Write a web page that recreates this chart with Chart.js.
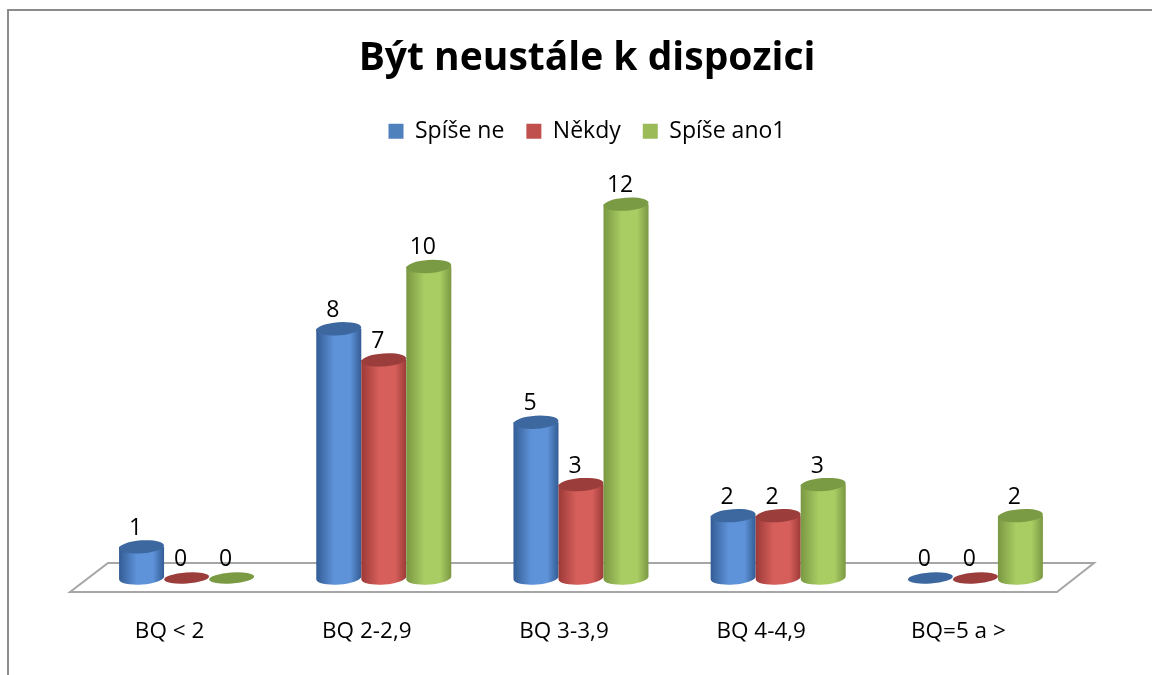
<!DOCTYPE html>
<html>
<head>
<meta charset="utf-8">
<script src="https://cdn.jsdelivr.net/npm/chart.js@4.4.1/dist/chart.umd.min.js"></script>
<style>
html,body{margin:0;padding:0;background:#fff;}
#wrap{position:relative;width:1152px;height:675px;}
</style>
</head>
<body>
<div id="wrap"><canvas id="c" width="1152" height="675"></canvas></div>
<script>
const categories = ["BQ < 2", "BQ 2-2,9", "BQ 3-3,9", "BQ 4-4,9", "BQ=5 a >"];
const seriesNames = ["Spíše ne", "Někdy", "Spíše ano1"];
const spiseNe = [1, 8, 5, 2, 0];
const nekdy = [0, 7, 3, 2, 0];
const spiseAno = [0, 10, 12, 3, 2];

const palette = [
  {legend:"#4f81bd", dark:"#335c94", light:"#5e93da", top:"#3c679f"},
  {legend:"#c0504d", dark:"#9c3a37", light:"#d65f5b", top:"#9b3d3a"},
  {legend:"#9bbb59", dark:"#7a9842", light:"#a9cc63", top:"#7b9a44"}
];
const FONT = "'Open Sans', sans-serif";
const BAR_SHIFT = 17;

const framePlugin = {
  id: 'frame',
  beforeDraw(chart) {
    const ctx = chart.ctx;
    ctx.save();
    ctx.strokeStyle = '#8c8c8c';
    ctx.lineWidth = 2;
    ctx.beginPath();
    ctx.moveTo(8, 675);
    ctx.lineTo(8, 10);
    ctx.lineTo(1152, 10);
    ctx.stroke();
    ctx.restore();
  },
  beforeDatasetsDraw(chart) {
    const ctx = chart.ctx;
    const y = chart.scales.y;
    const y0 = y.getPixelForValue(0);
    const L = chart.chartArea.left, R = chart.chartArea.right;
    ctx.save();
    ctx.fillStyle = '#ffffff';
    ctx.strokeStyle = '#a6a6a6';
    ctx.lineWidth = 2;
    ctx.beginPath();
    ctx.moveTo(L - 1, y0 + 14);
    ctx.lineTo(L + 37, y0 - 15);
    ctx.lineTo(R + 37, y0 - 15);
    ctx.lineTo(R, y0 + 14);
    ctx.closePath();
    ctx.fill();
    ctx.stroke();
    ctx.restore();
  }
};

const cylPlugin = {
  id: 'cyl',
  afterDatasetsDraw(chart) {
    const ctx = chart.ctx;
    const y0 = chart.scales.y.getPixelForValue(0);
    const ry = 6.5;
    chart.data.datasets.forEach((ds, di) => {
      const meta = chart.getDatasetMeta(di);
      const col = palette[di];
      meta.data.forEach((bar, i) => {
        const w = bar.width;
        const cx = bar.x + BAR_SHIFT;
        const left = cx - w / 2, right = cx + w / 2;
        const yt = bar.y;
        const rot = -0.07;
        ctx.save();
        if (ds.data[i] > 0) {
          const g = ctx.createLinearGradient(left, 0, right, 0);
          g.addColorStop(0, col.dark);
          g.addColorStop(0.4, col.light);
          g.addColorStop(0.75, col.light);
          g.addColorStop(1, col.dark);
          ctx.fillStyle = g;
          ctx.beginPath();
          ctx.moveTo(left, yt);
          ctx.lineTo(left, y0);
          ctx.ellipse(cx, y0, w / 2, ry, rot, Math.PI, 0, true);
          ctx.lineTo(right, yt);
          ctx.closePath();
          ctx.fill();
          ctx.fillStyle = col.top;
          ctx.beginPath();
          ctx.ellipse(cx, yt, w / 2, ry, rot, 0, Math.PI * 2);
          ctx.fill();
        } else {
          ctx.fillStyle = col.top;
          ctx.beginPath();
          ctx.ellipse(cx, y0, w / 2, ry - 1, rot, 0, Math.PI * 2);
          ctx.fill();
        }
        ctx.fillStyle = '#000';
        ctx.font = "23px " + FONT;
        ctx.textAlign = 'center';
        ctx.textBaseline = 'alphabetic';
        ctx.fillText(String(ds.data[i]), cx - 6, yt - 12);
        ctx.restore();
      });
    });
  }
};

const seriesValues = [spiseNe, nekdy, spiseAno];
new Chart(document.getElementById('c'), {
  type: 'bar',
  data: {
    labels: categories,
    datasets: seriesNames.map((n, k) => ({
      label: n,
      data: seriesValues[k],
      backgroundColor: 'rgba(0,0,0,0)',
      borderWidth: 0,
      barPercentage: 1,
      categoryPercentage: 0.685
    }))
  },
  options: {
    responsive: false,
    animation: false,
    devicePixelRatio: 1,
    layout: {padding: {left: 22, right: 0, top: 0, bottom: 0}},
    plugins: {
      title: {
        display: true,
        text: 'Být neustále k dispozici',
        color: '#000',
        font: {family: FONT, size: 39, weight: 'bold'},
        padding: {top: 35, bottom: 16}
      },
      legend: {
        display: true,
        position: 'top',
        labels: {
          color: '#000',
          font: {family: FONT, size: 23},
          boxWidth: 15,
          boxHeight: 15,
          padding: 22,
          generateLabels(chart) {
            return seriesNames.map((n, k) => ({
              text: n, fillStyle: palette[k].legend, strokeStyle: palette[k].legend,
              lineWidth: 0, datasetIndex: k, hidden: false
            }));
          }
        }
      },
      tooltip: {enabled: false}
    },
    scales: {
      x: {
        offset: true,
        grid: {display: false},
        border: {display: false},
        ticks: {color: '#000', font: {family: FONT, size: 22.5}, padding: 32, maxRotation: 0, autoSkip: false},
        afterFit(s) { s.height = 97; }
      },
      y: {
        min: 0, max: 13.65,
        display: true,
        grid: {display: false},
        border: {display: false},
        ticks: {display: false},
        afterFit(s) { s.width = 49; }
      },
      y2: {
        position: 'right',
        display: true,
        min: 0, max: 13.65,
        grid: {display: false},
        border: {display: false},
        ticks: {display: false},
        afterFit(s) { s.width = 95; }
      }
    }
  },
  plugins: [framePlugin, cylPlugin]
});
</script>
</body>
</html>
